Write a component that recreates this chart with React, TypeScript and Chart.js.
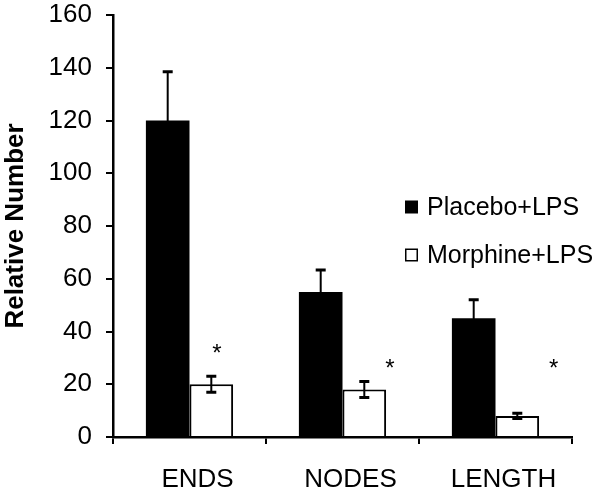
import React, { useEffect, useRef } from "react";
import { Chart, registerables } from "chart.js";

Chart.register(...registerables);

const categories = ["ENDS", "NODES", "LENGTH"];
const seriesLabels = ["Placebo+LPS", "Morphine+LPS"];
const placeboValues = [120, 55, 45];
const placeboErrors = [18.5, 8.3, 7];
const morphineValues = [20, 18, 8];
const morphineErrors = [3, 3, 1];
const asteriskValues = [33, 27, 27];
const asteriskOffsets = [0.18, 0.31, 0.38];
const yMin = 0;
const yMax = 160;
const yStep = 20;

const FONT = "'Liberation Sans', Arial, Helvetica, sans-serif";

const errorBarPlugin = {
  id: "errorBars",
  afterDatasetsDraw(chart: any) {
    const ctx = chart.ctx;
    const y = chart.scales.y;
    const errs = [placeboErrors, morphineErrors];
    const vals = [placeboValues, morphineValues];
    ctx.save();
    ctx.strokeStyle = "#000";
    chart.data.datasets.forEach((_: any, di: number) => {
      const meta = chart.getDatasetMeta(di);
      meta.data.forEach((bar: any, i: number) => {
        const v = vals[di][i];
        const e = errs[di][i];
        const top = y.getPixelForValue(v + e);
        const bot = y.getPixelForValue(v - e);
        const x = bar.x;
        const cap = 5;
        ctx.lineWidth = 2;
        ctx.beginPath();
        ctx.moveTo(x, top);
        ctx.lineTo(x, bot);
        ctx.stroke();
        ctx.lineWidth = 3;
        ctx.beginPath();
        ctx.moveTo(x - cap, top);
        ctx.lineTo(x + cap, top);
        ctx.moveTo(x - cap, bot);
        ctx.lineTo(x + cap, bot);
        ctx.stroke();
      });
    });
    ctx.restore();
  },
};

const asteriskPlugin = {
  id: "asterisks",
  afterDatasetsDraw(chart: any) {
    const ctx = chart.ctx;
    const xs = chart.scales.x;
    const ys = chart.scales.y;
    const catW = xs.width / categories.length;
    ctx.save();
    ctx.fillStyle = "#000";
    ctx.font = `24px ${FONT}`;
    ctx.textAlign = "center";
    ctx.textBaseline = "middle";
    categories.forEach((_, i) => {
      const x = xs.getPixelForValue(i) + asteriskOffsets[i] * catW;
      const yy = ys.getPixelForValue(asteriskValues[i]);
      ctx.fillText("*", x, yy + 4);
    });
    ctx.restore();
  },
};

const legendPlugin = {
  id: "insideLegend",
  afterDraw(chart: any) {
    const ctx = chart.ctx;
    const area = chart.chartArea;
    const x0 = area.left + 292;
    const rows = [area.top + 192, area.top + 240];
    ctx.save();
    ctx.font = `25px ${FONT}`;
    ctx.textBaseline = "middle";
    ctx.textAlign = "left";
    ctx.lineWidth = 1.5;
    seriesLabels.forEach((label, i) => {
      const cy = rows[i];
      if (i === 0) {
        ctx.fillStyle = "#000";
        ctx.fillRect(x0, cy - 6.5, 13, 13);
      } else {
        ctx.fillStyle = "#fff";
        ctx.fillRect(x0, cy - 6.5, 13, 13);
        ctx.strokeStyle = "#000";
        ctx.strokeRect(x0 + 0.75, cy - 5.75, 11.5, 11.5);
      }
      ctx.fillStyle = "#000";
      ctx.fillText(label, x0 + 22, cy + 1);
    });
    ctx.restore();
  },
};

export default function App() {
  const ref = useRef<HTMLCanvasElement | null>(null);

  useEffect(() => {
    document.body.style.margin = "0";
    if (!ref.current) return;
    const chart = new Chart(ref.current, {
      type: "bar",
      data: {
        labels: categories,
        datasets: [
          {
            label: seriesLabels[0],
            data: placeboValues,
            backgroundColor: "#000",
            borderColor: "#000",
            borderWidth: 0,
          },
          {
            label: seriesLabels[1],
            data: morphineValues,
            backgroundColor: "#fff",
            borderColor: "#000",
            borderWidth: 2,
          },
        ],
      },
      options: {
        animation: false,
        responsive: true,
        maintainAspectRatio: false,
        devicePixelRatio: 1,
        layout: { padding: { top: 0, right: 28, left: 0, bottom: 0 } },
        datasets: { bar: { barPercentage: 1, categoryPercentage: 0.57 } },
        plugins: {
          legend: { display: false },
          tooltip: { enabled: false },
        },
        scales: {
          x: {
            grid: {
              display: true,
              drawOnChartArea: false,
              drawTicks: true,
              tickLength: 7,
              color: "#000",
              lineWidth: 2,
              offset: true,
            },
            border: { display: true, color: "#000", width: 2.5 },
            ticks: {
              color: "#000",
              font: { family: FONT, size: 26 },
              padding: 20,
              maxRotation: 0,
              labelOffset: 8,
            },
            afterFit(scale: any) {
              scale.height = 58;
            },
          },
          y: {
            min: yMin,
            max: yMax,
            ticks: {
              stepSize: yStep,
              color: "#000",
              font: { family: FONT, size: 26 },
              padding: 14,
            },
            grid: {
              drawOnChartArea: false,
              drawTicks: true,
              tickLength: 7,
              color: "#000",
              lineWidth: 2,
            },
            border: { display: true, color: "#000", width: 2.5 },
            title: {
              display: true,
              text: "Relative Number",
              color: "#000",
              font: { family: FONT, size: 26, weight: "bold" },
              padding: { top: 0, bottom: 0 },
            },
            afterFit(scale: any) {
              scale.width = 113;
              scale.paddingTop = 15;
            },
          },
        },
      },
      plugins: [errorBarPlugin, asteriskPlugin, legendPlugin],
    });
    return () => chart.destroy();
  }, []);

  return (
    <div style={{ position: "relative", width: 600, height: 495 }}>
      <canvas ref={ref} />
    </div>
  );
}
